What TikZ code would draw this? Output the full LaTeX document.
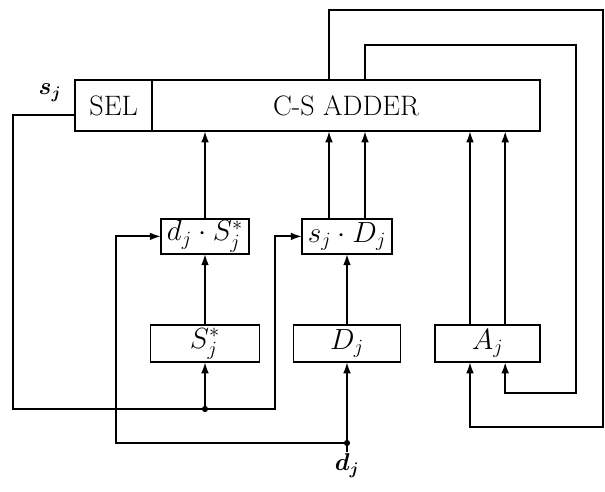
\documentclass[tikz,border=0pt]{standalone}
\usepackage{amsmath,amssymb,bm}
\usepackage{tikz}
\usetikzlibrary{arrows.meta}
\tikzset{
  blk/.style={draw,line width=1.3pt,inner sep=0pt,outer sep=0pt,font=\fontsize{20}{24}\selectfont},
  wire/.style={line width=1.3pt},
  lbl/.style={font=\fontsize{18}{22}\selectfont,inner sep=1pt}
}

\begin{document}
\begin{tikzpicture}[>={Latex[length=8pt,width=5.5pt]}]
  \useasboundingbox (0,0) rectangle (15.125,12.3);

  % 上部加法器
  \node[blk,minimum width=1.925cm,minimum height=1.275cm] (SEL) at (2.84,9.66) {SEL};
  \node[blk,anchor=west,minimum width=9.7cm,minimum height=1.275cm] (ADD) at (SEL.east) {C-S ADDER};

  % 中间两个乘积框
  \node[blk,minimum width=2.2cm,minimum height=0.875cm] (dS) at (5.125,6.39) {$d_j\cdot S_j^*$};
  \node[blk,minimum width=2.25cm,minimum height=0.875cm] (sD) at (8.675,6.39) {$s_j\cdot D_j$};

  % 下方三个寄存器
  \node[blk,minimum width=2.725cm,minimum height=0.925cm] (S) at (5.125,3.71) {$S_j^*$};
  \node[blk,minimum width=2.675cm,minimum height=0.925cm] (D) at (8.675,3.71) {$D_j$};
  \node[blk,minimum width=2.625cm,minimum height=0.925cm] (A) at (12.19,3.71) {$A_j$};

  % 标注
  \node[lbl] (sj) at (1.25,9.98) {$\bm{s_j}$};
  \node[lbl] (dj) at (8.675,0.65) {$\bm{d_j}$};

  % 辅助点
  \coordinate (sdot) at (5.125,2.075);
  \coordinate (ddot) at (8.675,1.225);
  \coordinate (sL) at (0.325,2.075);
  \coordinate (sR) at (6.875,2.075);
  \coordinate (dL) at (2.9,1.225);
  \coordinate (oc1) at (15.075,12.05);
  \coordinate (oc2) at (15.075,1.625);
  \coordinate (ic1) at (14.4,11.175);
  \coordinate (ic2) at (14.4,2.475);
  \coordinate (sDl) at ([xshift=-0.45cm]sD.north);
  \coordinate (sDr) at ([xshift=0.45cm]sD.north);
  \coordinate (Al) at ([xshift=-0.44cm]A.south);
  \coordinate (Ar) at ([xshift=0.44cm]A.south);

  % s_j 与 d_j 的连线
  \draw[wire,->] ([yshift=-0.24cm]SEL.west) -| (sL) -- (sR) |- (sD.west);
  \draw[wire,->] (dj) -- (D);
  \draw[wire,->] (ddot) -- (dL) |- (dS.west);
  \draw[wire,->] (sdot) -- (S);
  \draw[wire,->] (S) -- (dS);
  \draw[wire,->] (D) -- (sD);

  % 送入加法器
  \draw[wire,->] (dS) -- (dS.north |- ADD.south);
  \draw[wire,->] (sDl) -- (sDl |- ADD.south);
  \draw[wire,->] (sDr) -- (sDr |- ADD.south);
  \draw[wire,->] (Al |- A.north) -- (Al |- ADD.south);
  \draw[wire,->] (Ar |- A.north) -- (Ar |- ADD.south);

  % 反馈回路
  \draw[wire,->] (sDl |- ADD.north) |- (oc1) -- (oc2) -| (Al);
  \draw[wire,->] (sDr |- ADD.north) |- (ic1) -- (ic2) -| (Ar);

  \fill (sdot) circle (2.2pt);
  \fill (ddot) circle (2.2pt);
\end{tikzpicture}
\end{document}
